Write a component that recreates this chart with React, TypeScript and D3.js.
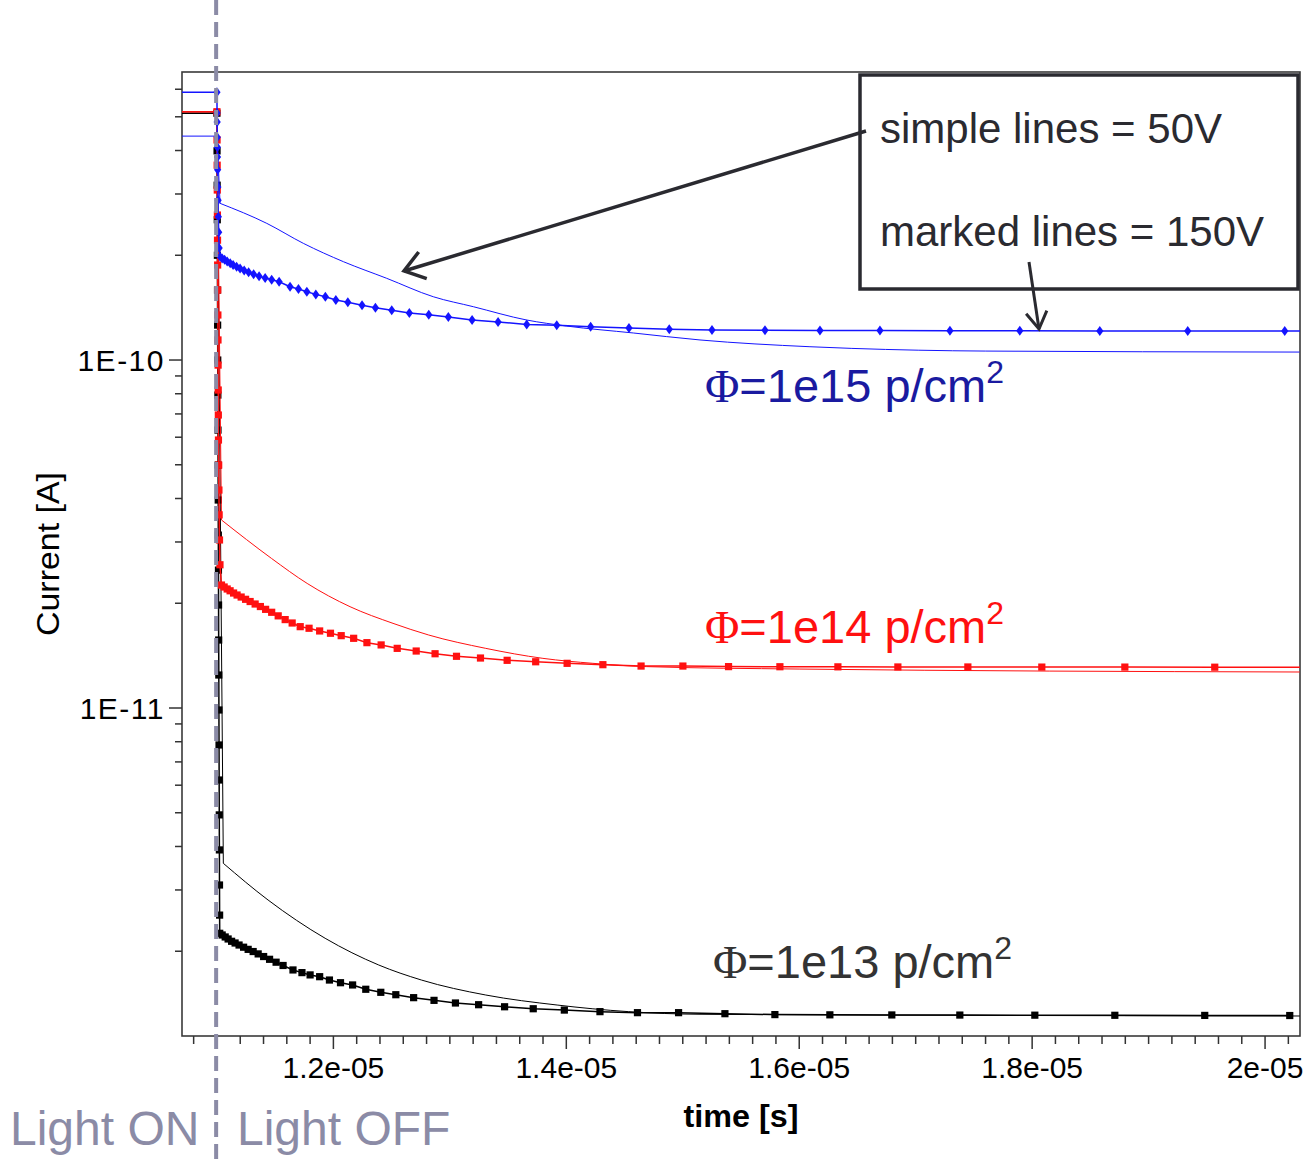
import React from "react";
import * as d3 from "d3";

// ---------- axis ranges / ticks ----------
const T_MIN = 10.7e-6;
const T_MAX = 20.3e-6;
const I_MIN = 1.1414e-12;
const I_MAX = 6.725e-10;
const LIGHT_OFF = 11.0e-6;

const xMajorTicks = [12e-6, 14e-6, 16e-6, 18e-6, 20e-6];
const xMajorLabels = ["1.2e-05", "1.4e-05", "1.6e-05", "1.8e-05", "2e-05"];
const yMajorTicks = [1e-11, 1e-10];
const yMajorLabels = ["1E-11", "1E-10"];

// ---------- currents before the light is switched off ----------
const blue150Pre = 5.88e-10;
const blue50Pre = 4.4e-10;
const red150Pre = 5.17e-10;
const red50Pre = 5.17e-10;
const black150Pre = 5.12e-10;
const black50Pre = 5.12e-10;

// ---------- Φ=1e15, 150V (marked) ----------
const blue150: [number, number][] = [
  [11.0e-6, 5.88e-10], [11.001e-6, 5.13e-10], [11.002e-6, 4.83e-10], [11.003e-6, 4.37e-10],
  [11.004e-6, 4.09e-10], [11.005e-6, 3.83e-10], [11.006e-6, 3.52e-10], [11.008e-6, 3.14e-10],
  [11.01e-6, 2.88e-10], [11.012e-6, 2.58e-10], [11.015e-6, 2.33e-10], [11.019e-6, 2.1e-10],
  [11.027e-6, 1.98e-10], [11.045e-6, 1.959e-10], [11.066e-6, 1.94e-10], [11.088e-6, 1.919e-10],
  [11.114e-6, 1.896e-10], [11.139e-6, 1.875e-10], [11.169e-6, 1.853e-10], [11.199e-6, 1.832e-10],
  [11.234e-6, 1.808e-10], [11.272e-6, 1.786e-10], [11.315e-6, 1.764e-10], [11.362e-6, 1.741e-10],
  [11.414e-6, 1.72e-10], [11.47e-6, 1.702e-10], [11.534e-6, 1.679e-10], [11.628e-6, 1.624e-10],
  [11.7e-6, 1.6e-10], [11.772e-6, 1.571e-10], [11.849e-6, 1.544e-10], [11.931e-6, 1.52e-10],
  [12.021e-6, 1.487e-10], [12.124e-6, 1.465e-10], [12.246e-6, 1.436e-10], [12.361e-6, 1.413e-10],
  [12.501e-6, 1.389e-10], [12.652e-6, 1.365e-10], [12.819e-6, 1.35e-10], [12.987e-6, 1.329e-10],
  [13.191e-6, 1.303e-10], [13.414e-6, 1.286e-10], [13.66e-6, 1.266e-10], [13.918e-6, 1.258e-10],
  [14.209e-6, 1.247e-10], [14.538e-6, 1.236e-10], [14.884e-6, 1.225e-10], [15.251e-6, 1.22e-10],
  [15.706e-6, 1.218e-10], [16.178e-6, 1.216e-10], [16.693e-6, 1.215e-10], [17.294e-6, 1.214e-10],
  [17.894e-6, 1.213e-10], [18.581e-6, 1.212e-10], [19.336e-6, 1.212e-10], [20.169e-6, 1.211e-10],
  [21.1e-6, 1.211e-10],
];

// ---------- Φ=1e15, 50V (simple) ----------
const blue50: [number, number][] = [
  [11.0e-6, 4.4e-10], [11.027e-6, 2.82e-10], [11.428e-6, 2.47e-10], [11.742e-6, 2.164e-10],
  [12.086e-6, 1.917e-10], [12.458e-6, 1.717e-10], [12.858e-6, 1.52e-10], [13.202e-6, 1.423e-10],
  [13.66e-6, 1.303e-10], [14.003e-6, 1.252e-10], [14.575e-6, 1.196e-10], [15.148e-6, 1.142e-10],
  [16.092e-6, 1.092e-10], [16.452e-6, 1.08e-10], [17.602e-6, 1.061e-10], [20.296e-6, 1.054e-10],
];

// ---------- Φ=1e14, 150V (marked) ----------
const red150: [number, number][] = [
  [11.0e-6, 5.17e-10], [11.001e-6, 4.29e-10], [11.002e-6, 3.63e-10], [11.003e-6, 3.08e-10],
  [11.004e-6, 2.61e-10], [11.005e-6, 2.21e-10], [11.006e-6, 1.875e-10], [11.007e-6, 1.589e-10],
  [11.008e-6, 1.347e-10], [11.009e-6, 1.142e-10], [11.01e-6, 9.67e-11], [11.011e-6, 8.2e-11],
  [11.012e-6, 6.95e-11], [11.013e-6, 5.89e-11], [11.015e-6, 4.99e-11], [11.017e-6, 4.23e-11],
  [11.019e-6, 3.59e-11], [11.022e-6, 3.04e-11], [11.026e-6, 2.58e-11],
  [11.039e-6, 2.256e-11], [11.062e-6, 2.227e-11], [11.088e-6, 2.198e-11], [11.113e-6, 2.172e-11],
  [11.143e-6, 2.14e-11], [11.173e-6, 2.112e-11], [11.208e-6, 2.084e-11], [11.246e-6, 2.053e-11],
  [11.285e-6, 2.023e-11], [11.328e-6, 1.99e-11], [11.373e-6, 1.957e-11], [11.418e-6, 1.921e-11],
  [11.47e-6, 1.884e-11], [11.526e-6, 1.84e-11], [11.586e-6, 1.795e-11], [11.646e-6, 1.755e-11],
  [11.715e-6, 1.713e-11], [11.791e-6, 1.695e-11], [11.882e-6, 1.665e-11], [11.975e-6, 1.64e-11],
  [12.067e-6, 1.614e-11], [12.174e-6, 1.586e-11], [12.288e-6, 1.541e-11], [12.41e-6, 1.518e-11],
  [12.548e-6, 1.484e-11], [12.711e-6, 1.458e-11], [12.873e-6, 1.432e-11], [13.057e-6, 1.408e-11],
  [13.263e-6, 1.392e-11], [13.492e-6, 1.371e-11], [13.737e-6, 1.358e-11], [14.007e-6, 1.344e-11],
  [14.314e-6, 1.332e-11], [14.642e-6, 1.32e-11], [15.001e-6, 1.32e-11], [15.393e-6, 1.315e-11],
  [15.834e-6, 1.314e-11], [16.332e-6, 1.313e-11], [16.847e-6, 1.312e-11], [17.448e-6, 1.312e-11],
  [18.083e-6, 1.311e-11], [18.796e-6, 1.311e-11], [19.568e-6, 1.31e-11], [20.4e-6, 1.31e-11],
];

// ---------- Φ=1e14, 50V (simple) ----------
const red50: [number, number][] = [
  [11.0e-6, 5.17e-10], [11.039e-6, 3.47e-11], [11.469e-6, 2.69e-11], [11.775e-6, 2.28e-11],
  [12.143e-6, 1.955e-11], [12.512e-6, 1.751e-11], [12.818e-6, 1.621e-11], [13.308e-6, 1.484e-11],
  [13.799e-6, 1.389e-11], [14.228e-6, 1.344e-11], [14.688e-6, 1.315e-11], [16.006e-6, 1.294e-11],
  [20.298e-6, 1.269e-11],
];

// ---------- Φ=1e13, 150V (marked) ----------
const black150: [number, number][] = [
  [11.0e-6, 5.12e-10], [11.001e-6, 3.99e-10], [11.002e-6, 3.18e-10], [11.003e-6, 2.53e-10],
  [11.004e-6, 2.0e-10], [11.005e-6, 1.589e-10], [11.006e-6, 1.26e-10], [11.007e-6, 1.0e-10],
  [11.008e-6, 7.93e-11], [11.009e-6, 6.29e-11], [11.01e-6, 4.99e-11], [11.011e-6, 3.96e-11],
  [11.012e-6, 3.14e-11], [11.013e-6, 2.49e-11], [11.014e-6, 1.977e-11], [11.015e-6, 1.568e-11],
  [11.016e-6, 1.244e-11], [11.017e-6, 9.87e-12], [11.018e-6, 7.83e-12], [11.019e-6, 6.21e-12],
  [11.02e-6, 4.93e-12], [11.021e-6, 3.91e-12], [11.022e-6, 3.1e-12], [11.023e-6, 2.54e-12],
  [11.024e-6, 2.252e-12], [11.045e-6, 2.227e-12], [11.071e-6, 2.198e-12], [11.096e-6, 2.169e-12],
  [11.126e-6, 2.136e-12], [11.156e-6, 2.112e-12], [11.19e-6, 2.084e-12], [11.229e-6, 2.054e-12],
  [11.268e-6, 2.025e-12], [11.311e-6, 1.996e-12], [11.354e-6, 1.965e-12], [11.401e-6, 1.931e-12],
  [11.452e-6, 1.896e-12], [11.508e-6, 1.86e-12], [11.568e-6, 1.82e-12], [11.653e-6, 1.767e-12],
  [11.73e-6, 1.736e-12], [11.8e-6, 1.71e-12], [11.882e-6, 1.69e-12], [11.966e-6, 1.653e-12],
  [12.061e-6, 1.624e-12], [12.165e-6, 1.6e-12], [12.278e-6, 1.555e-12], [12.407e-6, 1.524e-12],
  [12.536e-6, 1.5e-12], [12.689e-6, 1.471e-12], [12.864e-6, 1.445e-12], [13.048e-6, 1.42e-12],
  [13.247e-6, 1.404e-12], [13.47e-6, 1.385e-12], [13.716e-6, 1.367e-12], [13.983e-6, 1.355e-12],
  [14.289e-6, 1.341e-12], [14.611e-6, 1.332e-12], [14.964e-6, 1.332e-12], [15.362e-6, 1.323e-12],
  [15.791e-6, 1.315e-12], [16.263e-6, 1.313e-12], [16.795e-6, 1.312e-12], [17.379e-6, 1.311e-12],
  [18.023e-6, 1.31e-12], [18.71e-6, 1.309e-12], [19.482e-6, 1.308e-12], [20.212e-6, 1.307e-12],
];

// ---------- Φ=1e13, 50V (simple) ----------
const black50: [number, number][] = [
  [11.0e-6, 5.12e-10], [11.055e-6, 3.578e-12], [11.439e-6, 2.807e-12], [11.929e-6, 2.179e-12],
  [12.389e-6, 1.826e-12], [12.756e-6, 1.653e-12], [13.308e-6, 1.497e-12], [13.921e-6, 1.401e-12],
  [14.535e-6, 1.341e-12], [15.148e-6, 1.318e-12], [20.298e-6, 1.303e-12],
];

const BLUE = "#1414ff";
const RED = "#ff1010";
const BLACK = "#000000";
const LIGHT_COLOR = "#8b8ba6";
const ANNOT = "#2a2a30";
const FONT = "'Liberation Sans', Arial, Helvetica, sans-serif";

const P = { left: 182, right: 1300, top: 72, bottom: 1036 };

function arrowHead(x1: number, y1: number, x2: number, y2: number, len: number, ang: number) {
  const a = Math.atan2(y1 - y2, x1 - x2);
  const p1 = [x2 + len * Math.cos(a + ang), y2 + len * Math.sin(a + ang)];
  const p2 = [x2 + len * Math.cos(a - ang), y2 + len * Math.sin(a - ang)];
  return `M${p1[0]},${p1[1]} L${x2},${y2} L${p2[0]},${p2[1]}`;
}

export default function App() {
  const x = d3.scaleLinear().domain([T_MIN, T_MAX]).range([P.left, P.right]);
  const y = d3.scaleLog().domain([I_MIN, I_MAX]).range([P.bottom, P.top]);
  const lineStraight = d3
    .line<[number, number]>()
    .x((d) => x(d[0]))
    .y((d) => y(d[1]));
  const lineSmooth = d3
    .line<[number, number]>()
    .x((d) => x(d[0]))
    .y((d) => y(d[1]))
    .curve(d3.curveMonotoneX);

  const pathFor = (pre: number, pts: [number, number][], marked: boolean) => {
    if (marked) return lineStraight([[T_MIN, pre], ...pts]) || "";
    // constant light-on level and the switch-off drop are straight; the decay is smooth
    const head = lineStraight([[T_MIN, pre], pts[0], pts[1]]) || "";
    const tail = lineSmooth(pts.slice(1)) || "";
    return head + " " + tail;
  };

  const yTicks = y.ticks();
  const xMinor = d3.range(54, 102).map((i) => i * 2e-7);

  const diamond = "M0,-5 L3.6,0 L0,5 L-3.6,0 Z";

  const series = [
    { pre: black50Pre, pts: black50, color: BLACK, w: 1, marker: null },
    { pre: black150Pre, pts: black150, color: BLACK, w: 1.5, marker: "sq" },
    { pre: red50Pre, pts: red50, color: RED, w: 1, marker: null },
    { pre: red150Pre, pts: red150, color: RED, w: 1.5, marker: "sq" },
    { pre: blue50Pre, pts: blue50, color: BLUE, w: 1, marker: null },
    { pre: blue150Pre, pts: blue150, color: BLUE, w: 1.5, marker: "dm" },
  ];

  const phiFont = "'Liberation Serif', 'Times New Roman', serif";

  return (
    <svg
      width={1307}
      height={1160}
      style={{ position: "absolute", left: 0, top: 0, background: "#fff" }}
      fontFamily={FONT}
    >
      <defs>
        <clipPath id="plotClip">
          <rect x={P.left} y={P.top} width={P.right - P.left} height={P.bottom - P.top} />
        </clipPath>
      </defs>
      <rect x={0} y={0} width={1307} height={1160} fill="#fff" />

      {/* frame */}
      <rect
        x={P.left}
        y={P.top}
        width={P.right - P.left}
        height={P.bottom - P.top}
        fill="none"
        stroke="#3a3a3a"
        strokeWidth={1.6}
      />

      {/* y ticks */}
      {yTicks.map((t, i) => {
        const major = yMajorTicks.some((m) => Math.abs(m - t) / m < 1e-6);
        return (
          <line
            key={"yt" + i}
            x1={major ? P.left - 13 : P.left - 7}
            x2={P.left}
            y1={y(t)}
            y2={y(t)}
            stroke="#333"
            strokeWidth={1.5}
          />
        );
      })}
      {yMajorTicks.map((t, i) => (
        <text
          key={"yl" + i}
          x={165}
          y={y(t) + 11}
          textAnchor="end"
          fontSize={30}
          letterSpacing={1.5}
          fill="#000"
        >
          {yMajorLabels[i]}
        </text>
      ))}

      {/* x ticks */}
      {xMinor.map((t, i) => {
        const major = xMajorTicks.some((m) => Math.abs(m - t) / m < 1e-6);
        return (
          <line
            key={"xt" + i}
            x1={x(t)}
            x2={x(t)}
            y1={P.bottom}
            y2={P.bottom + (major ? 13 : 8)}
            stroke="#333"
            strokeWidth={1.5}
          />
        );
      })}
      {xMajorTicks.map((t, i) => (
        <text key={"xl" + i} x={x(t)} y={1078} textAnchor="middle" fontSize={30} fill="#000">
          {xMajorLabels[i]}
        </text>
      ))}

      {/* axis titles */}
      <text
        transform="translate(59,554) rotate(-90)"
        textAnchor="middle"
        fontSize={31}
        textLength={164}
        lengthAdjust="spacingAndGlyphs"
        fill="#000"
      >
        Current [A]
      </text>
      <text
        x={741}
        y={1127}
        textAnchor="middle"
        fontSize={31}
        fontWeight="bold"
        textLength={115}
        lengthAdjust="spacingAndGlyphs"
        fill="#000"
      >
        time [s]
      </text>

      {/* data */}
      <g clipPath="url(#plotClip)">
        {series.map((s, i) => (
          <g key={"s" + i}>
            <path
              d={pathFor(s.pre, s.pts, !!s.marker)}
              fill="none"
              stroke={s.color}
              strokeWidth={s.w}
            />
            {s.marker === "sq" &&
              s.pts.map((d, j) => (
                <rect
                  key={j}
                  x={x(d[0]) - 3.6}
                  y={y(d[1]) - 3.6}
                  width={7.2}
                  height={7.2}
                  fill={s.color}
                />
              ))}
            {s.marker === "dm" &&
              s.pts.map((d, j) => (
                <path
                  key={j}
                  d={diamond}
                  transform={`translate(${x(d[0])},${y(d[1])})`}
                  fill={s.color}
                />
              ))}
          </g>
        ))}
      </g>

      {/* light-off dashed line */}
      <line
        x1={x(LIGHT_OFF) - 0.8}
        x2={x(LIGHT_OFF) - 0.8}
        y1={0}
        y2={1160}
        stroke={LIGHT_COLOR}
        strokeWidth={4}
        strokeDasharray="15 7"
      />
      <text x={10} y={1145} fontSize={48} fill={LIGHT_COLOR}>
        Light ON
      </text>
      <text x={237} y={1145} fontSize={48} fill={LIGHT_COLOR}>
        Light OFF
      </text>

      {/* fluence labels */}
      <text x={705} y={402} fontSize={47} fill="#1a1aa0">
        <tspan fontFamily={phiFont}>Φ</tspan>
        <tspan>=1e15 p/cm</tspan>
        <tspan fontSize={32} dy={-19}>2</tspan>
      </text>
      <text x={705} y={643} fontSize={47} fill={RED}>
        <tspan fontFamily={phiFont}>Φ</tspan>
        <tspan>=1e14 p/cm</tspan>
        <tspan fontSize={32} dy={-19}>2</tspan>
      </text>
      <text x={713} y={978} fontSize={47} fill="#333333">
        <tspan fontFamily={phiFont}>Φ</tspan>
        <tspan>=1e13 p/cm</tspan>
        <tspan fontSize={32} dy={-19}>2</tspan>
      </text>

      {/* annotation box */}
      <rect x={860} y={75} width={438} height={214} fill="#fff" stroke={ANNOT} strokeWidth={3.5} />
      <text x={880} y={143} fontSize={42} fill={ANNOT}>
        simple lines = 50V
      </text>
      <text x={880} y={246} fontSize={42} fill={ANNOT}>
        marked lines = 150V
      </text>

      {/* arrows */}
      <line x1={866} y1={131} x2={404} y2={271} stroke={ANNOT} strokeWidth={3.5} />
      <path d={arrowHead(866, 131, 404, 271, 24, 0.62)} fill="none" stroke={ANNOT} strokeWidth={3.5} />
      <line x1={1029} y1={262} x2={1039} y2={329} stroke={ANNOT} strokeWidth={3} />
      <path d={arrowHead(1029, 262, 1039, 329, 20, 0.55)} fill="none" stroke={ANNOT} strokeWidth={3} />
    </svg>
  );
}
